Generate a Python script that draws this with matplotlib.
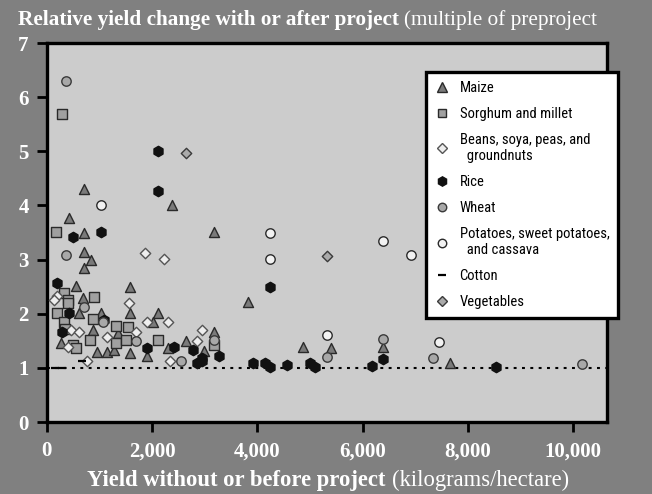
import matplotlib
matplotlib.use("Agg")
import matplotlib.pyplot as plt
from matplotlib.lines import Line2D
from matplotlib import font_manager as fm

# ---------------- data (yield before project in kg/ha, relative yield change) -------------
maize_x = [703, 2375, 418, 703, 3173, 703, 836, 703, 551, 1577, 3819, 684, 608, 1035, 1577,
           2118, 2014, 3173, 874, 1359, 2641, 266, 2308, 950, 1150, 1283, 2983, 1577, 1910,
           4864, 5396, 6384, 7657]
maize_y = [4.30, 4.01, 3.77, 3.49, 3.51, 3.14, 2.99, 2.85, 2.52, 2.49, 2.22, 2.29, 2.01, 2.01, 2.01,
           2.01, 1.84, 1.66, 1.69, 1.64, 1.49, 1.46, 1.36, 1.30, 1.30, 1.33, 1.32, 1.27, 1.21,
           1.39, 1.37, 1.38, 1.09]

sorghum_x = [285, 171, 323, 399, 399, 893, 190, 874, 323, 342, 1311, 1549, 817, 1311, 1501,
             2118, 494, 551, 3173]
sorghum_y = [5.69, 3.51, 2.38, 2.26, 2.19, 2.31, 2.01, 1.91, 1.84, 1.72, 1.77, 1.75, 1.51, 1.46, 1.51,
             1.51, 1.43, 1.36, 1.43]

beans_x = [1871, 2223, 190, 133, 1558, 1910, 2308, 1691, 2955, 2860, 456, 608, 1150, 399, 760, 2346]
beans_y = [3.12, 3.01, 2.33, 2.25, 2.19, 1.84, 1.84, 1.66, 1.69, 1.49, 1.69, 1.66, 1.57, 1.39, 1.12, 1.12]

rice_x = [2110, 2110, 494, 1035, 4247, 190, 418, 1083, 285, 1910, 2422, 2774, 3268, 2860, 2955,
          2955, 3914, 4142, 4247, 4560, 4997, 5092, 6175, 6384, 8531]
rice_y = [5.01, 4.27, 3.41, 3.51, 2.49, 2.57, 2.01, 1.89, 1.66, 1.36, 1.39, 1.33, 1.21, 1.09, 1.12,
          1.19, 1.09, 1.09, 1.02, 1.05, 1.09, 1.02, 1.03, 1.16, 1.02]

wheat_x = [361, 361, 703, 1064, 1691, 2546, 3173, 5320, 7334, 10165, 6384]
wheat_y = [6.30, 3.08, 2.13, 1.84, 1.49, 1.12, 1.51, 1.20, 1.18, 1.07, 1.53]

potato_x = [1035, 4247, 4247, 6384, 6916, 5320, 7448]
potato_y = [4.01, 3.49, 3.01, 3.34, 3.08, 1.61, 1.48]

cotton_x = [665, 150, 300]
cotton_y = [1.12, 1.00, 1.00]

veg_x = [2641, 5320]
veg_y = [4.97, 3.07]

x_ticks = [0, 2000, 4000, 6000, 8000, 10000]
x_ticklabels = ["0", "2,000", "4,000", "6,000", "8,000", "10,000"]
y_ticks = [0, 1, 2, 3, 4, 5, 6, 7]

labels = ["Maize", "Sorghum and millet", "Beans, soya, peas, and\n  groundnuts", "Rice", "Wheat",
          "Potatoes, sweet potatoes,\n  and cassava", "Cotton", "Vegetables"]

# ---------------- styles ----------------
BG = "#808080"
AX_BG = "#cccccc"
serif = "Liberation Serif"


def pick_condensed():
    pref = ["Liberation Sans Narrow", "Roboto Condensed", "DejaVu Sans Condensed",
            "Noto Sans Condensed", "Open Sans Condensed", "Noto Sans", "DejaVu Sans", "Roboto",
            "Open Sans"]
    cands = []
    for f in fm.fontManager.ttflist:
        st = str(f.stretch)
        cond = ("condensed" in st) or ("Condensed" in f.name) or ("Narrow" in f.name) \
            or (st.isdigit() and int(st) < 500)
        if cond and f.style == "normal" and f.weight in ("normal", "regular", 400, "book", "medium", 500):
            low = f.fname.lower()
            if "italic" in low or "oblique" in low:
                continue
            cands.append(f)
    for p in pref:
        for f in cands:
            if f.name == p or p in f.name:
                return fm.FontProperties(fname=f.fname)
    if cands:
        return fm.FontProperties(fname=cands[0].fname)
    return fm.FontProperties(family="DejaVu Sans")


leg_prop = pick_condensed()

styles = [
    dict(marker="^", facecolor="#7a7a7a", edgecolor="#2a2a2a", s=52),
    dict(marker="s", facecolor="#a0a0a0", edgecolor="#2a2a2a", s=44),
    dict(marker="D", facecolor="#eeeeee", edgecolor="#555555", s=28),
    dict(marker="h", facecolor="#111111", edgecolor="#111111", s=56),
    dict(marker="o", facecolor="#a8a8a8", edgecolor="#3a3a3a", s=46),
    dict(marker="o", facecolor="#f2f2f2", edgecolor="#2a2a2a", s=46),
    dict(marker="_", facecolor="black", edgecolor="black", s=34),
    dict(marker="D", facecolor="#aaaaaa", edgecolor="#3a3a3a", s=28),
]
series = [(maize_x, maize_y), (sorghum_x, sorghum_y), (beans_x, beans_y), (rice_x, rice_y),
          (wheat_x, wheat_y), (potato_x, potato_y), (cotton_x, cotton_y), (veg_x, veg_y)]

fig = plt.figure(figsize=(6.52, 4.94), dpi=100, facecolor=BG)
ax = fig.add_axes([46.7 / 652, 1 - 422 / 494, (607.5 - 46.7) / 652, (422 - 43) / 494])
ax.set_facecolor(AX_BG)

ax.axhline(1, color="black", lw=1.5, ls=(0, (1.4, 2.6)), zorder=1)

for (xs, ys), st in zip(series, styles):
    lw = 1.6 if st["marker"] == "_" else 1.0
    ax.scatter(xs, ys, marker=st["marker"], s=st["s"], facecolors=st["facecolor"],
               edgecolors=st["edgecolor"], linewidths=lw, zorder=3)

ax.set_xlim(0, 10650)
ax.set_ylim(0, 7)
ax.set_xticks(x_ticks)
ax.set_xticklabels(x_ticklabels)
ax.set_yticks(y_ticks)
for sp in ax.spines.values():
    sp.set_linewidth(2.4)
    sp.set_color("black")
ax.tick_params(axis="both", direction="out", length=7, width=2, color="black",
               labelcolor="white", labelsize=15, pad=7)
ax.tick_params(axis="y", pad=6)
for lab in ax.get_xticklabels() + ax.get_yticklabels():
    lab.set_family(serif)
    lab.set_fontweight("bold")

# title (bold + regular)
t1 = fig.text(18 / 652, 1 - 20 / 494, "Relative yield change with or after project",
              color="white", fontsize=15.3, fontweight="bold", family=serif, va="center", ha="left")
fig.canvas.draw()
bb = t1.get_window_extent()
fig.text((bb.x1 + 5) / 652, 1 - 20 / 494, "(multiple of preproject",
         color="white", fontsize=15.3, family=serif, va="center", ha="left")

# x label (bold + regular), centred
xl1 = fig.text(0, 1 - 480 / 494, "Yield without or before project", color="white",
               fontsize=16.3, fontweight="bold", family=serif, va="center", ha="left")
xl2 = fig.text(0, 1 - 480 / 494, "(kilograms/hectare)", color="white",
               fontsize=16.3, family=serif, va="center", ha="left")
fig.canvas.draw()
w1 = xl1.get_window_extent().width
w2 = xl2.get_window_extent().width
gap = 6
total = w1 + gap + w2
start = 328 - total / 2
xl1.set_x(start / 652)
xl2.set_x((start + w1 + gap) / 652)

handles = [Line2D([], [], ls="none", marker=st["marker"], markersize=(st["s"] ** 0.5) * 0.9,
                  markerfacecolor=st["facecolor"], markeredgecolor=st["edgecolor"],
                  markeredgewidth=1.6 if st["marker"] == "_" else 1.0) for st in styles]

# choose legend font size so "Sorghum and millet" is ~113 px wide (as in the reference)
size = 12.0
for _ in range(6):
    p = leg_prop.copy()
    p.set_size(size)
    tt = fig.text(0, 0, labels[1], fontproperties=p)
    fig.canvas.draw()
    w = tt.get_window_extent().width
    tt.remove()
    size = size * 113.0 / max(w, 1)


def make_legend(size, spacing):
    p = leg_prop.copy()
    p.set_size(size)
    lg = fig.legend(handles, labels, loc="upper left", bbox_to_anchor=(426 / 652, 1 - 72 / 494),
                    bbox_transform=fig.transFigure, frameon=True, fancybox=False,
                    prop=p, handlelength=1.0, handletextpad=0.7,
                    labelspacing=spacing, borderpad=0.6, borderaxespad=0)
    lg.get_frame().set_facecolor("white")
    lg.get_frame().set_edgecolor("black")
    lg.get_frame().set_linewidth(2.4)
    lg.get_frame().set_alpha(1)
    return lg


spacing = 0.35
leg = make_legend(size, spacing)
fig.canvas.draw()
for _ in range(8):
    h = leg.get_window_extent().height
    diff = (318 - 72) - h  # desired height in px
    if abs(diff) < 1.5:
        break
    leg.remove()
    spacing = max(0.05, spacing + diff / 7.0 / (size * 100 / 72.0))
    leg = make_legend(size, spacing)
    fig.canvas.draw()

fig.savefig("out.png", dpi=100, facecolor=BG)
